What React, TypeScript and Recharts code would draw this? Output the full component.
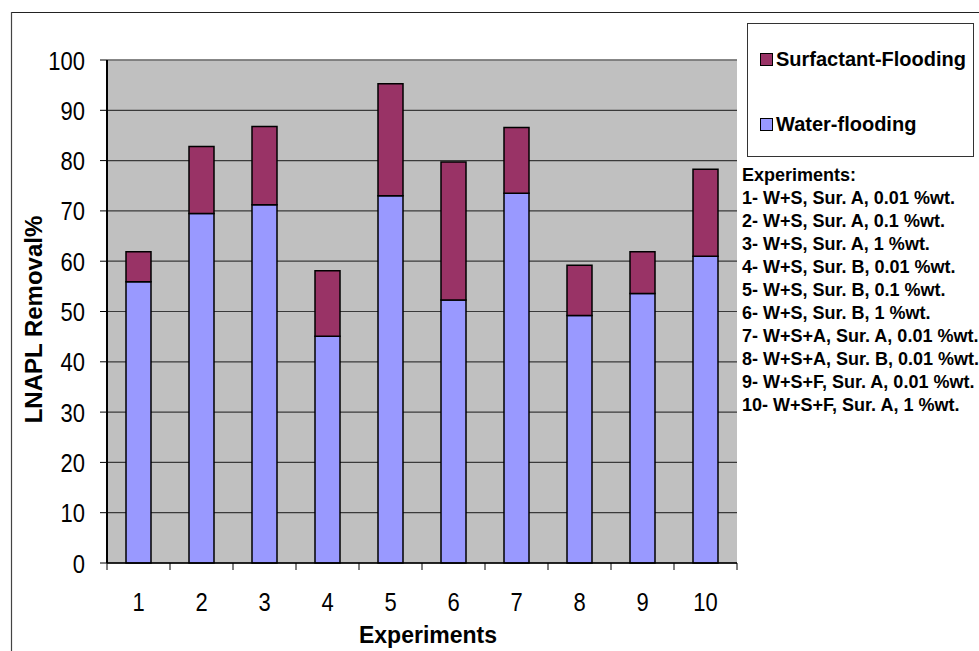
import { BarChart, Bar, XAxis, YAxis, CartesianGrid, Legend, ReferenceLine, Label } from 'recharts';

const experiments = ['1', '2', '3', '4', '5', '6', '7', '8', '9', '10'];
// LNAPL removal by water-flooding (bottom part of each bar)
const waterFlooding = [55.9, 69.5, 71.2, 45.1, 73.0, 52.3, 73.5, 49.2, 53.6, 61.0];
// extra removal from surfactant-flooding (stacked on top)
const surfactantFlooding = [6.0, 13.3, 15.6, 13.0, 22.3, 27.4, 13.1, 10.0, 8.3, 17.3];
const yTicks = [0, 10, 20, 30, 40, 50, 60, 70, 80, 90, 100];

const experimentNotes = [
  '1- W+S, Sur. A, 0.01 %wt.',
  '2- W+S, Sur. A, 0.1 %wt.',
  '3- W+S, Sur. A, 1 %wt.',
  '4- W+S, Sur. B, 0.01 %wt.',
  '5- W+S, Sur. B, 0.1 %wt.',
  '6- W+S, Sur. B, 1 %wt.',
  '7- W+S+A, Sur. A, 0.01 %wt.',
  '8- W+S+A, Sur. B, 0.01 %wt.',
  '9- W+S+F, Sur. A, 0.01 %wt.',
  '10- W+S+F, Sur. A, 1 %wt.',
];

const WATER = '#9999FF';
const SURF = '#993366';
const FONT = '"Liberation Sans", Arial, sans-serif';

const rows = experiments.map((exp, i) => ({
  exp,
  water: waterFlooding[i],
  surfactant: surfactantFlooding[i],
}));

// the original digits are a bit taller than they are wide
const ExperimentTick = (props: any) => {
  const { x, y, payload, index, visibleTicksCount } = props;
  const half = payload?.offset || 31.5;
  return (
    <g>
      <line x1={x - half} x2={x - half} y1={y} y2={y + 7} stroke="#000" />
      {index === visibleTicksCount - 1 && (
        <line x1={x + half} x2={x + half} y1={y} y2={y + 7} stroke="#000" />
      )}
      <text
        transform={`translate(${x},${y + 48}) scale(1,1.2)`}
        textAnchor="middle"
        fontSize={22}
        fontFamily={FONT}
        fill="#000"
      >
        {payload.value}
      </text>
    </g>
  );
};

const ValueTick = (props: any) => {
  const { x, y, payload } = props;
  return (
    <text
      transform={`translate(${x},${y}) scale(1,1.2)`}
      dy="0.36em"
      textAnchor="end"
      fontSize={22}
      fontFamily={FONT}
      fill="#000"
    >
      {payload.value}
    </text>
  );
};

const LegendBox = () => (
  <div
    style={{
      width: 227,
      height: 134,
      boxSizing: 'border-box',
      border: '1px solid #333',
      background: '#fff',
      fontFamily: FONT,
      fontWeight: 'bold',
      fontSize: 20,
      color: '#000',
      position: 'relative',
    }}
  >
    {[
      { name: 'Surfactant-Flooding', color: SURF, top: 23 },
      { name: 'Water-flooding', color: WATER, top: 88 },
    ].map((it) => (
      <div key={it.name} style={{ position: 'absolute', left: 12, top: it.top, display: 'flex', alignItems: 'center', lineHeight: '24px' }}>
        <span style={{ display: 'inline-block', width: 11, height: 11, background: it.color, border: '1px solid #000', marginRight: 3 }} />
        {it.name}
      </div>
    ))}
  </div>
);

export default function App() {
  return (
    <div style={{ position: 'absolute', left: 0, top: 0, width: 979, height: 651, background: '#fff', overflow: 'hidden' }}>
      <BarChart
        width={979}
        height={651}
        data={rows}
        margin={{ top: 60, right: 242, bottom: 0, left: 7 }}
        style={{ fontFamily: FONT }}
      >
        <CartesianGrid vertical={false} stroke="#3a3a3a" strokeWidth={1.2} fill="#C0C0C0" />
        <XAxis
          dataKey="exp"
          height={88}
          tickSize={0}
          tickMargin={0}
          tickLine={false}
          axisLine={{ stroke: '#000', strokeWidth: 1.5 }}
          tick={<ExperimentTick />}
          interval={0}
        >
          <Label
            value="Experiments"
            position="insideBottom"
            offset={8}
            dx={6}
            style={{ fontSize: 23, fontWeight: 'bold', fill: '#000', fontFamily: FONT }}
          />
        </XAxis>
        <YAxis
          width={100}
          domain={[0, 100]}
          ticks={yTicks}
          interval={0}
          tickSize={7}
          tickMargin={15}
          tick={<ValueTick />}
          tickLine={{ stroke: '#000' }}
          axisLine={{ stroke: '#000', strokeWidth: 2 }}
        >
          <Label
            content={({ viewBox }: any) => {
              const cx = viewBox.x + 35;
              const cy = viewBox.y + viewBox.height / 2 + 8;
              return (
                <text
                  x={cx}
                  y={cy}
                  transform={`rotate(-90, ${cx}, ${cy})`}
                  textAnchor="middle"
                  fontSize={24}
                  fontWeight="bold"
                  fontFamily={FONT}
                  fill="#000"
                >
                  LNAPL Removal%
                </text>
              );
            }}
          />
        </YAxis>
        <YAxis
          yAxisId="right"
          orientation="right"
          width={0}
          domain={[0, 100]}
          tick={false}
          tickLine={false}
          axisLine={{ stroke: '#808080', strokeWidth: 1.5 }}
        />
        <ReferenceLine y={100} stroke="#808080" strokeWidth={1.5} />
        <Legend
          layout="vertical"
          align="center"
          verticalAlign="middle"
          wrapperStyle={{ left: 747, top: 23, width: 227, height: 134 }}
          content={<LegendBox />}
        />
        <Bar dataKey="water" name="Water-flooding" stackId="a" fill={WATER} stroke="#000" strokeWidth={1.5} barSize={25} isAnimationActive={false} />
        <Bar dataKey="surfactant" name="Surfactant-Flooding" stackId="a" fill={SURF} stroke="#000" strokeWidth={1.5} barSize={25} isAnimationActive={false} />
      </BarChart>
      <svg width={979} height={651} style={{ position: 'absolute', left: 0, top: 0, pointerEvents: 'none' }}>
        <line x1={11} x2={979} y1={12.5} y2={12.5} stroke="#222" strokeWidth={1.2} />
        <line x1={11.5} x2={11.5} y1={12} y2={651} stroke="#444" strokeWidth={1.2} />
        <g fontFamily={FONT} fontWeight="bold" fontSize={18} fill="#000">
          <text x={742} y={181}>Experiments:</text>
          {experimentNotes.map((t, i) => (
            <text key={t} x={742} y={204 + i * 23}>
              {t}
            </text>
          ))}
        </g>
      </svg>
    </div>
  );
}
